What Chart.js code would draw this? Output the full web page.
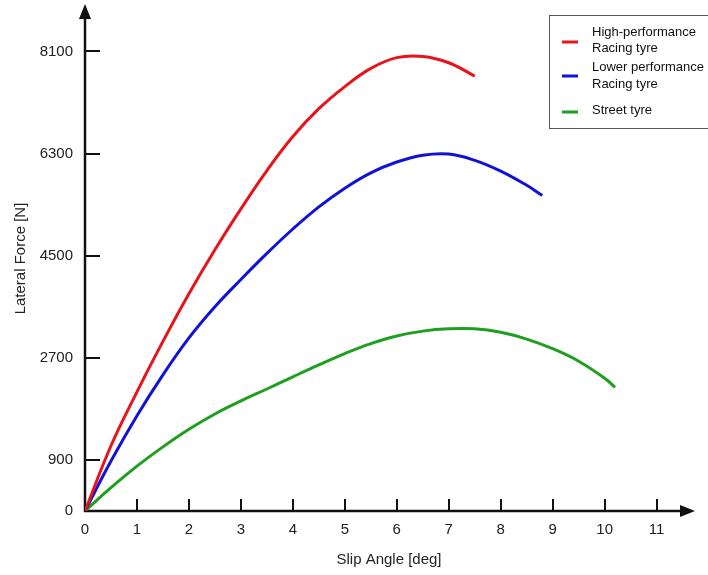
<!DOCTYPE html>
<html>
<head>
<meta charset="utf-8">
<script src="https://cdn.jsdelivr.net/npm/chart.js@4.4.1/dist/chart.umd.min.js"></script>
<style>
  body { margin: 0; background: #fff; }
  #wrap { width: 708px; height: 575px; }
</style>
</head>
<body>
<div id="wrap"><canvas id="tyreChart"></canvas></div>
<script>
// slip angle (deg) / lateral force (N)
const redX = [0, 0.5, 1, 1.5, 2, 2.5, 3, 3.5, 4, 4.5, 5, 5.5, 6, 6.5, 7, 7.5];
const redY = [0, 1150, 2100, 2990, 3830, 4605, 5325, 6000, 6600, 7090, 7480, 7800, 7990, 8010, 7900, 7665];

const blueX = [0, 0.5, 1, 1.5, 2, 2.5, 3, 3.5, 4, 4.5, 5, 5.5, 6, 6.5, 7, 7.5, 8, 8.5, 8.8];
const blueY = [0, 880, 1680, 2400, 3050, 3600, 4080, 4540, 4970, 5360, 5690, 5960, 6150, 6270, 6290, 6180, 5990, 5740, 5560];

const greenX = [0, 0.5, 1, 1.5, 2, 2.5, 3, 3.5, 4, 4.5, 5, 5.5, 6, 6.5, 7, 7.5, 8, 8.5, 9, 9.5, 10, 10.2];
const greenY = [0, 410, 790, 1130, 1440, 1710, 1940, 2150, 2365, 2575, 2775, 2950, 3085, 3170, 3210, 3210, 3150, 3030, 2860, 2640, 2340, 2180];

const xTicks = [0, 1, 2, 3, 4, 5, 6, 7, 8, 9, 10, 11];
const yTicks = [0, 900, 2700, 4500, 6300, 8100];

const seriesNames = [['High-performance', 'Racing tyre'], ['Lower performance', 'Racing tyre'], ['Street tyre']];
const seriesColors = ['#e8141c', '#1212d6', '#1f9e1f'];

function pts(xs, ys) {
  return xs.map((x, i) => ({ x: x, y: ys[i] }));
}

const FONT = 'Liberation Sans, Arial, sans-serif';

// axes with arrows and inward tick marks
const axesPlugin = {
  id: 'axesPlugin',
  beforeDatasetsDraw(chart) {
    const { ctx, scales: { x, y }, chartArea } = chart;
    const x0 = x.getPixelForValue(0), y0 = y.getPixelForValue(0);
    ctx.save();
    ctx.strokeStyle = '#111';
    ctx.fillStyle = '#111';
    ctx.lineWidth = 2.5;
    ctx.beginPath();
    ctx.moveTo(x0, y0 + 1);
    ctx.lineTo(x0, chartArea.top + 10);
    ctx.moveTo(x0 - 1, y0);
    ctx.lineTo(chartArea.right - 10, y0);
    ctx.stroke();
    ctx.lineWidth = 2;
    yTicks.forEach(v => {
      if (v === 0) return;
      const py = Math.round(y.getPixelForValue(v));
      ctx.beginPath();
      ctx.moveTo(x0, py);
      ctx.lineTo(x0 + 15, py);
      ctx.stroke();
    });
    xTicks.forEach(v => {
      if (v === 0) return;
      const px = Math.round(x.getPixelForValue(v));
      ctx.beginPath();
      ctx.moveTo(px, y0);
      ctx.lineTo(px, y0 - 12);
      ctx.stroke();
    });
    // arrow heads
    ctx.beginPath();
    ctx.moveTo(x0, chartArea.top - 2);
    ctx.lineTo(x0 - 6, chartArea.top + 13);
    ctx.lineTo(x0 + 6, chartArea.top + 13);
    ctx.closePath();
    ctx.fill();
    ctx.beginPath();
    ctx.moveTo(chartArea.right + 2, y0);
    ctx.lineTo(chartArea.right - 13, y0 - 6);
    ctx.lineTo(chartArea.right - 13, y0 + 6);
    ctx.closePath();
    ctx.fill();
    ctx.restore();
  }
};

// boxed legend in the top right corner
const boxLegend = {
  id: 'boxLegend',
  afterDraw(chart) {
    const { ctx } = chart;
    ctx.save();
    ctx.strokeStyle = '#555';
    ctx.lineWidth = 1;
    ctx.strokeRect(549.5, 15.5, 170, 113);
    ctx.font = '13px ' + FONT;
    ctx.fillStyle = '#111';
    ctx.textBaseline = 'middle';
    const rows = [[32, 48, 42], [67, 84, 76], [110, null, 112]];
    chart.data.datasets.forEach((ds, i) => {
      const r = rows[i];
      ctx.strokeStyle = ds.borderColor;
      ctx.lineWidth = 3;
      ctx.beginPath();
      ctx.moveTo(562, r[2]);
      ctx.lineTo(578, r[2]);
      ctx.stroke();
      seriesNames[i].forEach((t, k) => {
        ctx.fillText(t, 592, r[k]);
      });
    });
    ctx.restore();
  }
};

const datasets = [
  { label: seriesNames[0].join(' '), data: pts(redX, redY) },
  { label: seriesNames[1].join(' '), data: pts(blueX, blueY) },
  { label: seriesNames[2].join(' '), data: pts(greenX, greenY) }
].map((d, i) => Object.assign(d, {
  borderColor: seriesColors[i],
  borderWidth: 3,
  pointRadius: 0,
  fill: false,
  tension: 0.4
}));

new Chart(document.getElementById('tyreChart'), {
  type: 'line',
  data: { datasets: datasets },
  options: {
    responsive: true,
    maintainAspectRatio: false,
    animation: false,
    layout: { padding: { top: 6, right: 15, left: 0, bottom: 0 } },
    plugins: { legend: { display: false }, tooltip: { enabled: false } },
    scales: {
      x: {
        type: 'linear',
        min: 0,
        max: 11.7,
        afterBuildTicks: s => { s.ticks = xTicks.map(v => ({ value: v })); },
        afterFit: s => { s.height = 64; s.paddingLeft = 0; s.paddingRight = 0; },
        grid: { display: false, drawTicks: false, tickLength: 0 },
        border: { display: false },
        ticks: { color: '#222', font: { family: FONT, size: 15 }, padding: 10, maxRotation: 0, callback: v => String(v) },
        title: { display: true, text: 'Slip Angle [deg]', color: '#222', font: { family: FONT, size: 15 }, padding: { bottom: 6 } }
      },
      y: {
        type: 'linear',
        min: 0,
        max: 8900,
        afterBuildTicks: s => { s.ticks = yTicks.map(v => ({ value: v })); },
        afterFit: s => { s.width = 85; s.paddingTop = 0; s.paddingBottom = 0; },
        grid: { display: false, drawTicks: false, tickLength: 0 },
        border: { display: false },
        ticks: { color: '#222', font: { family: FONT, size: 15 }, padding: 12, callback: v => String(v) },
        title: { display: true, text: 'Lateral Force [N]', color: '#222', font: { family: FONT, size: 15 }, padding: { top: 12 } }
      }
    }
  },
  plugins: [axesPlugin, boxLegend]
});
</script>
</body>
</html>
